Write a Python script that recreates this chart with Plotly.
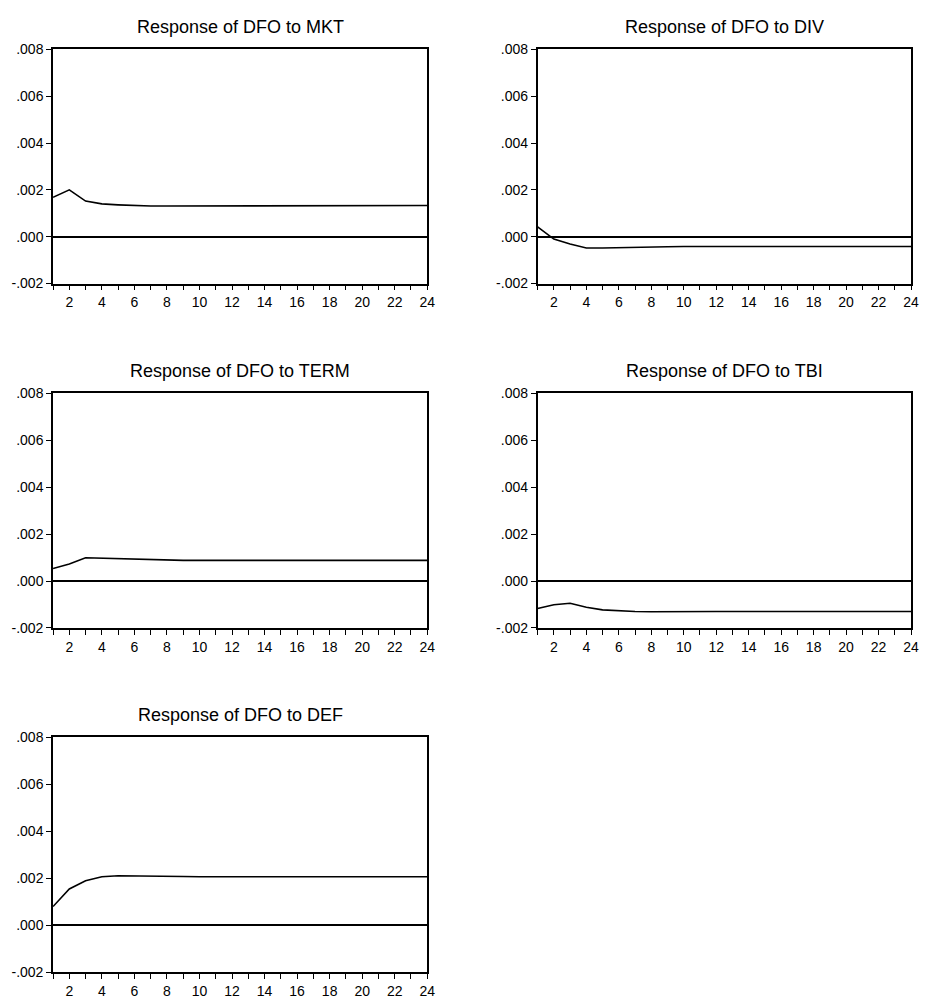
import plotly.graph_objects as go

periods = list(range(1, 25))

mkt = [0.00168, 0.00200, 0.00152, 0.00140, 0.00136, 0.00133, 0.00131, 0.00131,
       0.00131, 0.00131, 0.00131, 0.00133, 0.00133, 0.00133, 0.00133, 0.00133,
       0.00133, 0.00133, 0.00133, 0.00133, 0.00133, 0.00133, 0.00133, 0.00133]
div = [0.00042, -0.00010, -0.00031, -0.00048, -0.00048, -0.00046, -0.00044, -0.00043,
       -0.00043, -0.00042, -0.00042, -0.00042, -0.00042, -0.00042, -0.00042, -0.00042,
       -0.00042, -0.00042, -0.00042, -0.00042, -0.00042, -0.00042, -0.00042, -0.00042]
term = [0.00053, 0.00073, 0.00099, 0.00097, 0.00094, 0.00092, 0.00090, 0.00088,
        0.00088, 0.00088, 0.00088, 0.00088, 0.00088, 0.00088, 0.00088, 0.00088,
        0.00088, 0.00088, 0.00088, 0.00088, 0.00088, 0.00088, 0.00088, 0.00088]
tbi = [-0.00117, -0.00101, -0.00095, -0.00112, -0.00123, -0.00127, -0.00130, -0.00131,
       -0.00130, -0.00130, -0.00130, -0.00130, -0.00130, -0.00130, -0.00130, -0.00130,
       -0.00130, -0.00130, -0.00130, -0.00130, -0.00130, -0.00130, -0.00130, -0.00130]
deff = [0.00080, 0.00155, 0.00190, 0.00207, 0.00211, 0.00211, 0.00210, 0.00208,
        0.00208, 0.00207, 0.00207, 0.00207, 0.00207, 0.00207, 0.00207, 0.00207,
        0.00207, 0.00207, 0.00207, 0.00207, 0.00207, 0.00207, 0.00207, 0.00207]

titles = ["Response of DFO to MKT", "Response of DFO to DIV", "Response of DFO to TERM",
          "Response of DFO to TBI", "Response of DFO to DEF"]
series = [mkt, div, term, tbi, deff]

ytick_vals = [-0.002, 0.0, 0.002, 0.004, 0.006, 0.008]
ytick_text = ["-.002", ".000", ".002", ".004", ".006", ".008"]
xtick_text = [str(i) if i % 2 == 0 else "" for i in periods]

W, H = 925, 1001
# pixel boxes: (left, right, top, bottom)
boxes = [
    (53.5, 431, 42, 280),
    (542.3, 919, 42, 280),
    (53.5, 431, 391.7, 630),
    (542.3, 919, 391.7, 630),
    (53.5, 431, 741.3, 980),
]

fig = go.Figure()
font = "Liberation Sans, Arial, sans-serif"
annotations = []
for i, (ys, title, box) in enumerate(zip(series, titles, boxes)):
    n = i + 1
    xa = "x" if n == 1 else f"x{n}"
    ya = "y" if n == 1 else f"y{n}"
    fig.add_trace(go.Scatter(x=periods, y=ys, mode="lines",
                             line=dict(color="black", width=1.6),
                             xaxis=xa, yaxis=ya, showlegend=False))
    l, r, t, b = box
    xkey = "xaxis" if n == 1 else f"xaxis{n}"
    ykey = "yaxis" if n == 1 else f"yaxis{n}"
    fig.update_layout(**{
        xkey: dict(domain=[l / W, r / W], anchor=ya, range=[1, 24],
                   tickvals=periods, ticktext=xtick_text, ticks="outside",
                   ticklen=5, tickwidth=1.3, tickcolor="black",
                   showline=True, linecolor="black", linewidth=1.6, mirror=True,
                   showgrid=False, zeroline=False,
                   tickfont=dict(family=font, size=14, color="black")),
        ykey: dict(domain=[1 - b / H, 1 - t / H], anchor=xa, range=[-0.002, 0.008],
                   tickvals=ytick_vals, ticktext=ytick_text, ticks="outside",
                   ticklen=5, tickwidth=1.3, tickcolor="black",
                   showline=True, linecolor="black", linewidth=1.6, mirror=True,
                   showgrid=False, zeroline=True, zerolinecolor="black",
                   zerolinewidth=1.6,
                   tickfont=dict(family=font, size=14, color="black")),
    })
    annotations.append(dict(text=title, xref="paper", yref="paper",
                            x=(l + r) / 2 / W, y=1 - (t - 23) / H,
                            xanchor="center", yanchor="middle", showarrow=False,
                            font=dict(family=font, size=18, color="black")))

fig.update_layout(width=W, height=H, margin=dict(l=0, r=0, t=0, b=0),
                  paper_bgcolor="white", plot_bgcolor="white",
                  annotations=annotations)

fig.write_html("out.html")
